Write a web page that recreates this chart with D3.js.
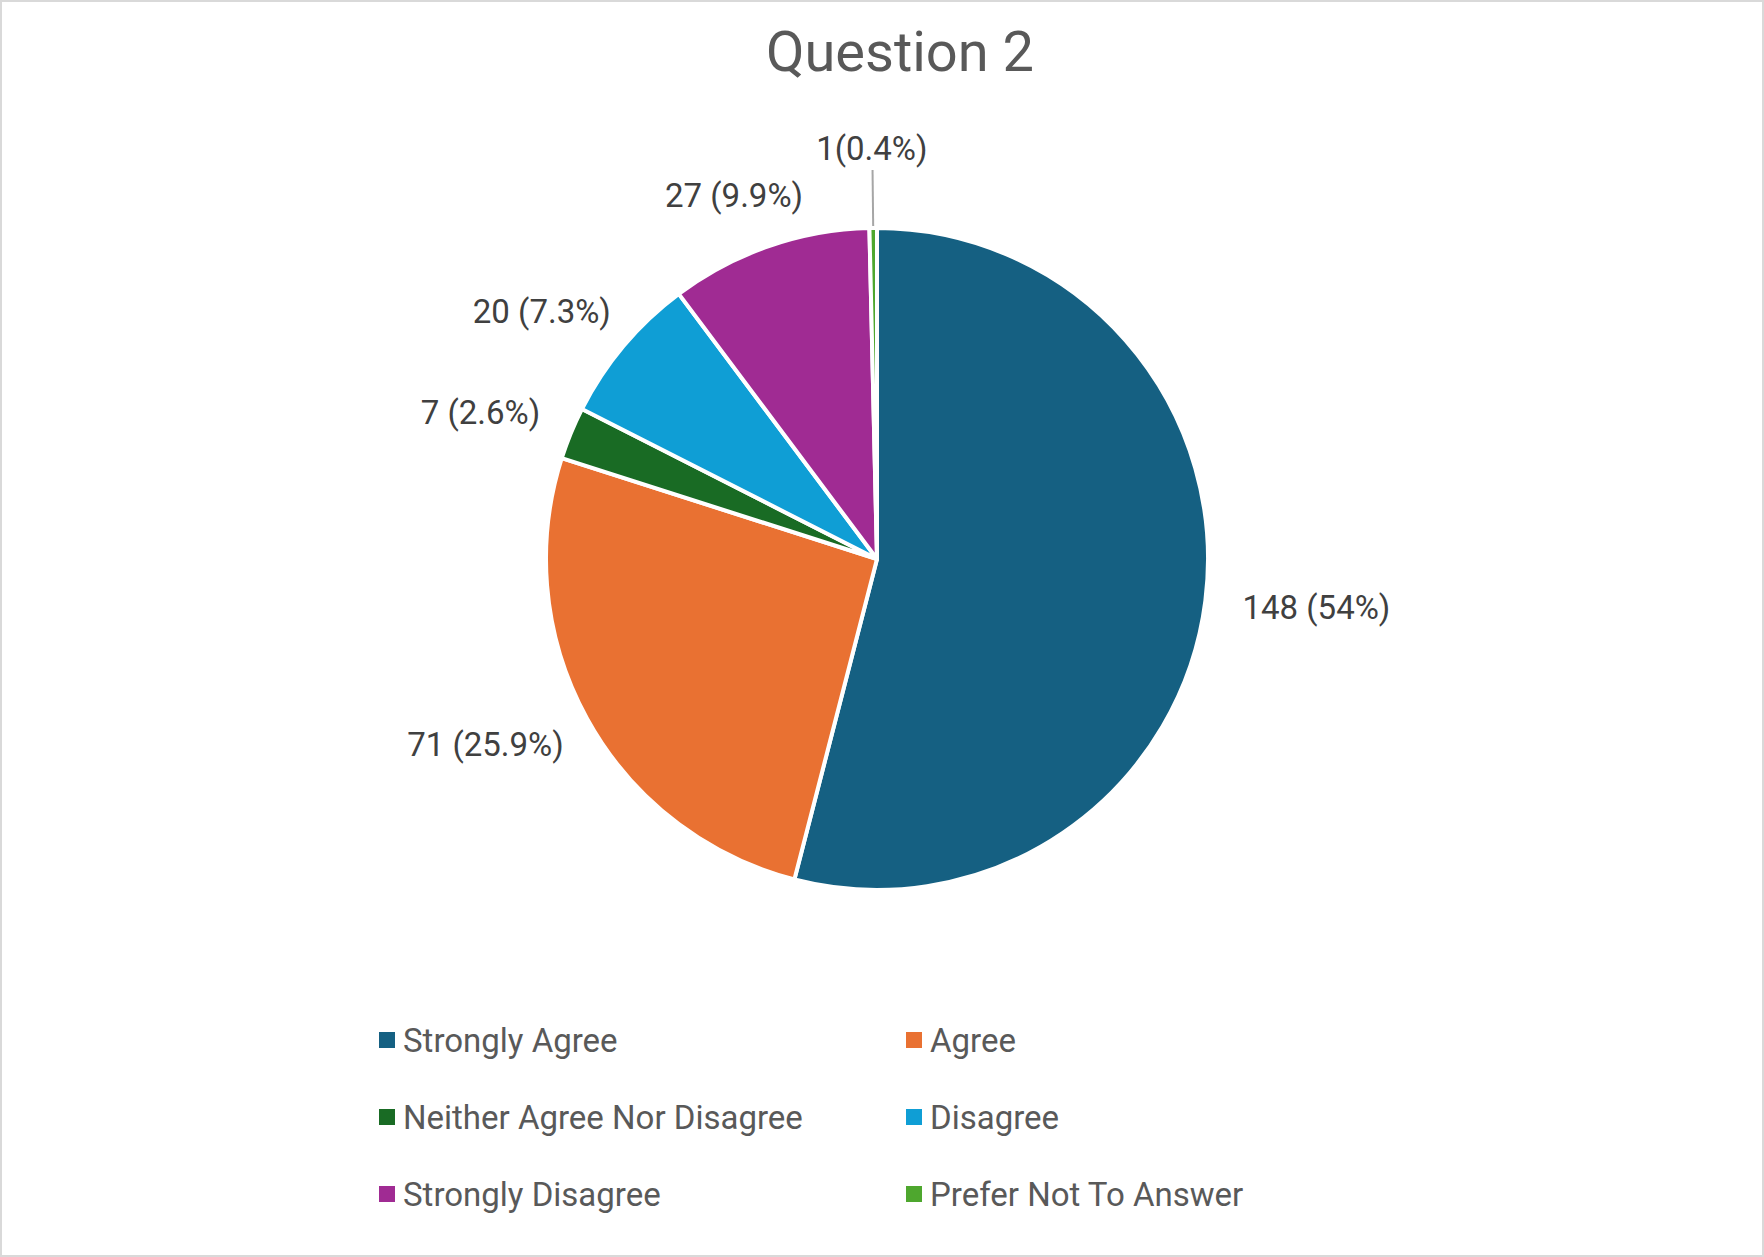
<!DOCTYPE html>
<html>
<head>
<meta charset="utf-8">
<script src="https://cdn.jsdelivr.net/npm/d3@7"></script>
<style>
  body { margin: 0; background: #fff; }
  text { font-family: Roboto, "Open Sans", sans-serif; }
</style>
</head>
<body>
<div id="chart"></div>
<script>
const categories = ['Strongly Agree', 'Agree', 'Neither Agree Nor Disagree', 'Disagree', 'Strongly Disagree', 'Prefer Not To Answer'];
const counts = [148, 71, 7, 20, 27, 1];
const pctLabels = ['54%', '25.9%', '2.6%', '7.3%', '9.9%', '0.4%'];
const colors = ['#156082', '#e97132', '#196b24', '#0f9ed5', '#a02b93', '#4ea72e'];

const W = 1764, H = 1257;
const cx = 877, cy = 559, r = 331;

const svg = d3.select('#chart').append('svg')
  .attr('width', W)
  .attr('height', H);

svg.append('rect')
  .attr('x', 1).attr('y', 1)
  .attr('width', W - 2).attr('height', H - 2)
  .attr('fill', '#fff')
  .attr('stroke', '#d9d9d9')
  .attr('stroke-width', 2);

svg.append('text')
  .attr('x', 900).attr('y', 71)
  .attr('text-anchor', 'middle')
  .attr('font-size', 56)
  .attr('fill', '#595959')
  .text('Question 2');

const data = categories.map((c, i) => ({ name: c, value: counts[i], pct: pctLabels[i], color: colors[i] }));
const total = d3.sum(counts);

const pie = d3.pie().sort(null).value((d) => d.value);
const arc = d3.arc().innerRadius(0).outerRadius(r);
const arcs = pie(data);

const g = svg.append('g').attr('transform', `translate(${cx}, ${cy})`);

g.selectAll('path.slice')
  .data(arcs)
  .enter()
  .append('path')
  .attr('class', 'slice')
  .attr('d', arc)
  .attr('fill', (d) => d.data.color)
  .attr('stroke', '#fff')
  .attr('stroke-width', 4)
  .attr('stroke-linejoin', 'round');

// labels outside, pushed outward by half the text box
const fontSize = 33;
arcs.forEach((d) => {
  const a = (d.startAngle + d.endAngle) / 2;
  const small = d.data.value / total < 0.01;
  const txt = small ? `${d.data.value}(${d.data.pct})` : `${d.data.value} (${d.data.pct})`;
  const rr = r + (small ? 64 : 38);
  const label = g.append('text')
    .attr('font-size', fontSize)
    .attr('fill', '#404040')
    .attr('text-anchor', 'middle')
    .text(txt);
  const w = label.node().getComputedTextLength();
  const h = fontSize * 0.95;
  const x = rr * Math.sin(a) + (w / 2) * Math.sin(a);
  const y = -rr * Math.cos(a) - (h / 2) * Math.cos(a);
  label.attr('x', x).attr('y', y + fontSize * 0.35);
  if (small) {
    g.append('line')
      .attr('x1', (r + 2) * Math.sin(a)).attr('y1', -(r + 2) * Math.cos(a))
      .attr('x2', (rr - 6) * Math.sin(a)).attr('y2', -(rr - 6) * Math.cos(a))
      .attr('stroke', '#a6a6a6')
      .attr('stroke-width', 2);
  }
});

// legend: 2 columns, 3 rows
const legend = svg.append('g');
const colX = d3.scaleOrdinal().domain([0, 1]).range([379, 906]);
const rowY = d3.scaleLinear().domain([0, 2]).range([1040, 1194]);
data.forEach((d, i) => {
  const x = colX(i % 2);
  const y = rowY(Math.floor(i / 2));
  legend.append('rect')
    .attr('x', x).attr('y', y - 8)
    .attr('width', 16).attr('height', 16)
    .attr('fill', d.color);
  legend.append('text')
    .attr('x', x + 24).attr('y', y + 12)
    .attr('font-size', 33)
    .attr('fill', '#595959')
    .text(d.name);
});
</script>
</body>
</html>
